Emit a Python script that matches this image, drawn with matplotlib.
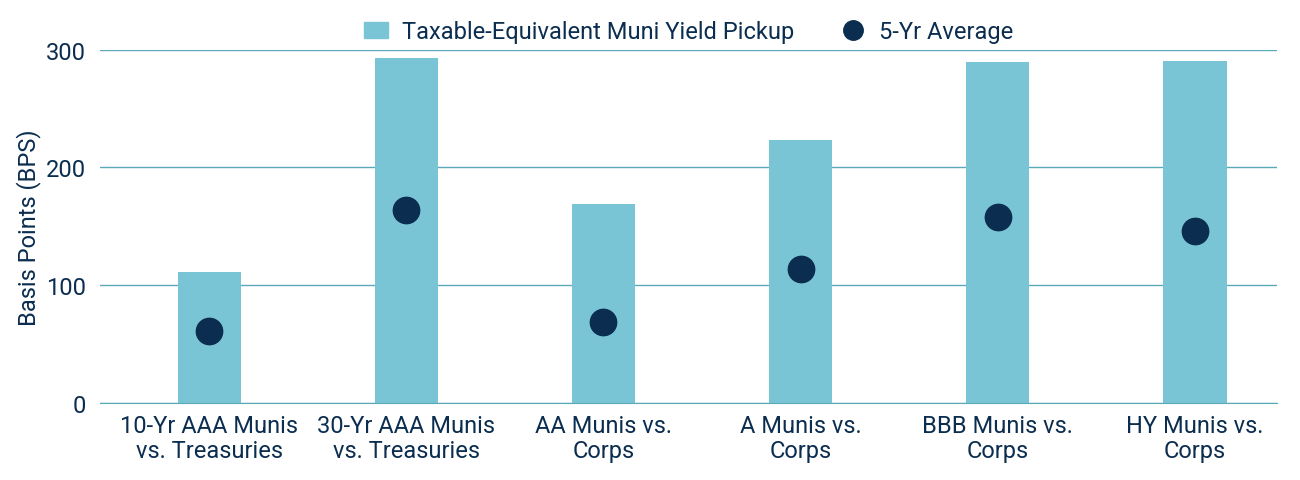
import matplotlib
matplotlib.use("Agg")
import matplotlib.pyplot as plt
from matplotlib.lines import Line2D
from matplotlib.patches import Patch

categories = ["10-Yr AAA Munis\nvs. Treasuries", "30-Yr AAA Munis\nvs. Treasuries",
              "AA Munis vs.\nCorps", "A Munis vs.\nCorps", "BBB Munis vs.\nCorps", "HY Munis vs.\nCorps"]
pickup = [111, 293, 169, 223, 289, 290]
avg5 = [61, 164, 69, 114, 158, 146]

navy = "#0b2d4f"
barc = "#7ac5d5"
plt.rcParams["font.family"] = "Roboto"

fig = plt.figure(figsize=(13, 4.81), dpi=100)
ax = fig.add_axes([0.077, 0.16, 0.905, 0.735])
x = range(len(categories))
ax.bar(x, pickup, width=0.32, color=barc, zorder=2)
ax.scatter(x, avg5, s=360, color=navy, zorder=3)
ax.set_ylim(0, 300)
ax.set_xlim(-0.553, 5.414)
ax.set_yticks([0, 100, 200, 300])
ax.yaxis.grid(True, color="#5aa9b8", linewidth=1, zorder=0)
for s in ["top", "right", "left"]:
    ax.spines[s].set_visible(False)
ax.spines["bottom"].set_color("#5aa9b8")
ax.tick_params(axis="y", length=0, labelsize=17, labelcolor=navy, pad=10)
ax.tick_params(axis="x", length=0, labelsize=17, labelcolor=navy, pad=8)
ax.set_xticks(list(x))
ax.set_xticklabels(categories, linespacing=1.1)
ax.set_ylabel("Basis Points (BPS)", fontsize=17, color=navy)
handles = [Patch(color=barc, label="Taxable-Equivalent Muni Yield Pickup"),
           Line2D([], [], marker="o", linestyle="", markersize=14, color=navy, label="5-Yr Average")]
fig.legend(handles=handles, loc="upper center", bbox_to_anchor=(0.53, 1.0), ncol=2, frameon=False,
           fontsize=17, labelcolor=navy, handlelength=1.0, handletextpad=0.6, columnspacing=2.0)
fig.savefig("out.png", dpi=100)
